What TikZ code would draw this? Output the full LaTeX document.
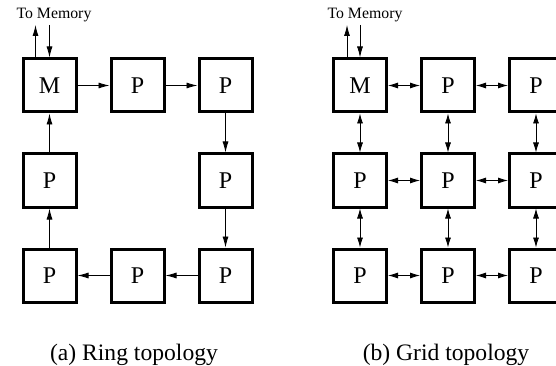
\documentclass[tikz,border=0pt]{standalone}
\usepackage{fontspec}
\setmainfont{Liberation Serif}
\usetikzlibrary{positioning}
\usetikzlibrary{calc, arrows.meta}

\tikzset{
  proc/.style={draw, line width=3pt, outer sep=1.5pt, minimum size=53pt, inner sep=0pt, font=\fontsize{24}{28}\selectfont},
  oneway/.style={line width=0.8pt, -{Latex[length=11pt,width=6pt]}},
  twoway/.style={line width=0.8pt, {Latex[length=10pt,width=6pt]}-{Latex[length=10pt,width=6pt]}},
  caption/.style={font=\fontsize{23.6}{28}\selectfont, inner sep=0pt},
  memlabel/.style={font=\fontsize{15.8}{18}\selectfont, inner sep=0pt}
}

\begin{document}
\begin{tikzpicture}
\clip (0,0) rectangle (556pt,-366pt);
% ring topology
\node[proc] (rM) at (49.5pt,-85.5pt) {M};
\node[proc, right=32pt of rM] (r1) {P};
\node[proc, right=32pt of r1] (r2) {P};
\node[proc, below=39pt of r2] (r3) {P};
\node[proc, below=39pt of r3] (r4) {P};
\node[proc, left=32pt of r4] (r5) {P};
\node[proc, left=32pt of r5] (r6) {P};
\node[proc, above=39pt of r6] (r7) {P};

\draw[oneway] (rM) -- (r1);
\draw[oneway] (r1) -- (r2);
\draw[oneway] (r2) -- (r3);
\draw[oneway] (r3) -- (r4);
\draw[oneway] (r4) -- (r5);
\draw[oneway] (r5) -- (r6);
\draw[oneway] (r6) -- (r7);
\draw[oneway] (r7) -- (rM);

% memory link of the ring
\coordinate (routb) at ($(rM.north)+(-14pt,0)$);
\coordinate (rout) at ($(rM.north)+(-14pt,32.5pt)$);
\coordinate (rin) at ($(rM.north)+(0,32.5pt)$);
\draw[oneway] (routb) -- (rout);
\draw[oneway] (rin) -- (rM);
\node[memlabel, anchor=base] (rmem) at ($(rM.north)+(4.5pt,38.5pt)$) {To Memory};
\node[caption, anchor=base] (rcap) at ($(r5.south)+(-3.5pt,-56.5pt)$) {(a) Ring topology};

% grid topology
\node[proc] (gM) at (360pt,-85.5pt) {M};
\node[proc, right=32pt of gM] (g12) {P};
\node[proc, right=32pt of g12] (g13) {P};
\node[proc, below=39pt of gM] (g21) {P};
\node[proc, right=32pt of g21] (g22) {P};
\node[proc, right=32pt of g22] (g23) {P};
\node[proc, below=39pt of g21] (g31) {P};
\node[proc, right=32pt of g31] (g32) {P};
\node[proc, right=32pt of g32] (g33) {P};

\draw[twoway] (gM) -- (g12);
\draw[twoway] (g12) -- (g13);
\draw[twoway] (g21) -- (g22);
\draw[twoway] (g22) -- (g23);
\draw[twoway] (g31) -- (g32);
\draw[twoway] (g32) -- (g33);
\draw[twoway] (gM) -- (g21);
\draw[twoway] (g21) -- (g31);
\draw[twoway] (g12) -- (g22);
\draw[twoway] (g22) -- (g32);
\draw[twoway] (g13) -- (g23);
\draw[twoway] (g23) -- (g33);

% memory link of the grid
\coordinate (goutb) at ($(gM.north)+(-13pt,0)$);
\coordinate (gout) at ($(gM.north)+(-13pt,32.5pt)$);
\coordinate (gin) at ($(gM.north)+(0,32.5pt)$);
\draw[oneway] (goutb) -- (gout);
\draw[oneway] (gin) -- (gM);
\node[memlabel, anchor=base] (gmem) at ($(gM.north)+(5pt,38.5pt)$) {To Memory};
\node[caption, anchor=base] (gcap) at ($(g32.south)+(-2pt,-56.5pt)$) {(b) Grid topology};
\end{tikzpicture}
\end{document}
